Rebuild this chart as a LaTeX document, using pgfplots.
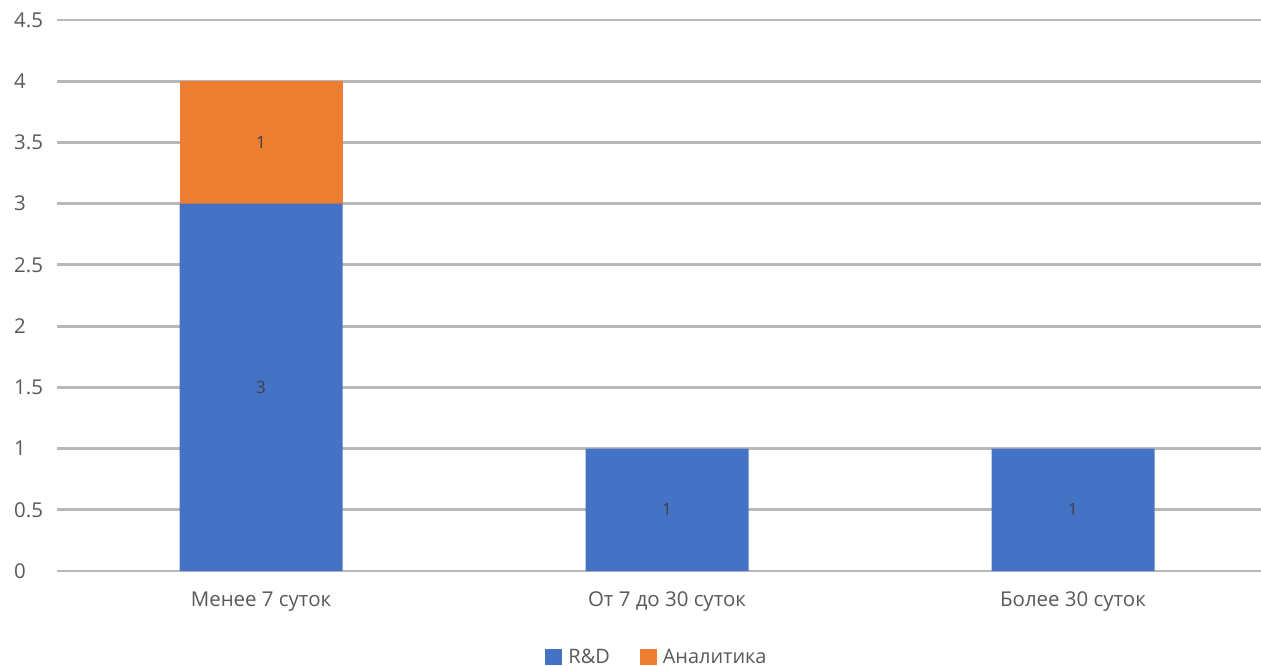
\documentclass[border=0pt]{standalone}
\usepackage{pgfplots}
\pgfplotsset{compat=1.18}
\usepackage{fontspec}
\setmainfont{Open Sans}
\definecolor{bblue}{HTML}{4472C4}
\definecolor{borange}{HTML}{ED7D31}
\definecolor{gridc}{HTML}{B8B8B8}
\definecolor{txt}{HTML}{595959}
\definecolor{lbl}{HTML}{404040}
\pgfplotsset{
  base/.style={
    at={(0,0)}, anchor=south west,
    scale only axis, width=1204bp, height=551bp,
    xmin=-0.5025, xmax=2.463, ymin=0, ymax=4.5,
    clip=false,
  }
}
\begin{document}
\begin{tikzpicture}
\useasboundingbox (-57bp,-95bp) rectangle (1204bp,571bp);
\begin{axis}[base,
  ybar stacked, bar width=163bp,
  ytick={0,0.5,1,1.5,2,2.5,3,3.5,4,4.5},
  ymajorgrids, grid style={gridc, line width=2.8bp},
  axis line style={draw=none}, major tick length=0pt,
  xtick={0,1,2},
  xticklabels={Менее 7 суток, От 7 до 30 суток, Более 30 суток},
  /pgf/number format/assume math mode=true,
  ticklabel style={font=\fontsize{20.5}{23}\selectfont, text=txt},
  yticklabel style={anchor=west, inner sep=0pt, xshift=-43bp},
  xticklabel style={anchor=center, inner sep=0pt, yshift=-31bp},
  legend style={at={(0.5,-0.156)}, anchor=center, draw=none, legend columns=-1,
    font=\fontsize{20}{23}\selectfont, text=txt, inner sep=0pt,
    nodes={inner xsep=6bp, inner ysep=0pt},
    /tikz/every even column/.append style={column sep=24bp}},
  legend image code/.code={\fill[#1] (0bp,-8bp) rectangle (17bp,8bp);},
]
\addplot[fill=bblue, draw=none] coordinates {(0,3) (1,1) (2,1)};
\addplot[fill=borange, draw=none] coordinates {(0,1) (1,0) (2,0)};
\legend{R\&D, Аналитика}
\end{axis}
\begin{axis}[base, hide axis,
  nodes near coords style={anchor=center, font=\fontsize{17}{19}\selectfont, text=lbl}]
\addplot[draw=none, mark=none, nodes near coords, point meta=explicit symbolic]
  coordinates {(0,1.5)[3] (0,3.5)[1] (1,0.5)[1] (2,0.5)[1]};
\end{axis}
\end{tikzpicture}
\end{document}
